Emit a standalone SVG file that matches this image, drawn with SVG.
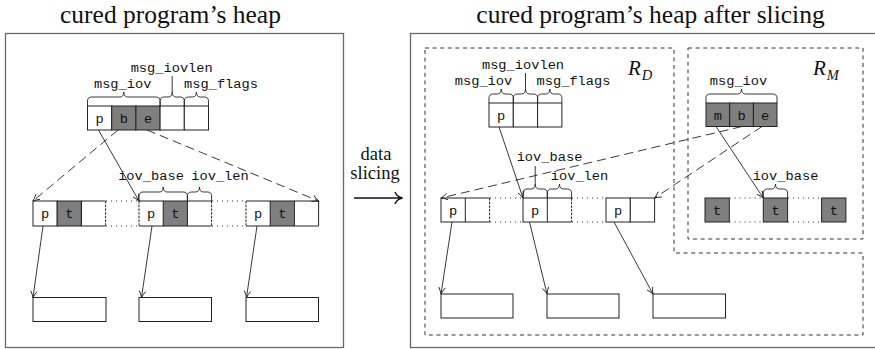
<svg xmlns="http://www.w3.org/2000/svg" width="875" height="349" viewBox="0 0 875 349">
<defs>
<marker id="ah" markerUnits="userSpaceOnUse" markerWidth="12" markerHeight="12" viewBox="-7 -6 8 12" refX="0" refY="0" orient="auto">
<path d="M-6.5,-3.2 Q-2.8,-0.9 0,0 Q-2.8,0.9 -6.5,3.2" fill="none" stroke="#222" stroke-width="0.9"/>
</marker>
<style>
.panel{fill:none;stroke:#6a6a6a;stroke-width:1.3}
.region{fill:none;stroke:#333;stroke-width:1;stroke-dasharray:4 3.6}
.cell{fill:#fff;stroke:#222;stroke-width:1}
.gr{fill:#7f7f7f}
.edge{stroke:#222;stroke-width:1;stroke-dasharray:2.5 1.2}
.dot{stroke:#333;stroke-width:1.1;stroke-dasharray:1.1 3.9;fill:none}
.brace{fill:none;stroke:#222;stroke-width:0.9}
.box{fill:#fff;stroke:#222;stroke-width:1}
.mono{font-family:"Liberation Mono","DejaVu Sans Mono",monospace;font-size:13.7px;fill:#111;text-anchor:middle}
.title{font-family:"Liberation Serif","DejaVu Serif",serif;font-size:25.5px;fill:#111;text-anchor:middle}
.lbl{font-family:"Liberation Serif","DejaVu Serif",serif;font-size:18.5px;fill:#111;text-anchor:middle}
.math{font-family:"Liberation Serif","DejaVu Serif",serif;font-style:italic;fill:#111}
.ptr{fill:none;stroke:#222;stroke-width:0.9;marker-end:url(#ah)}
.dptr{fill:none;stroke:#222;stroke-width:0.9;stroke-dasharray:9 5;marker-end:url(#ah)}
</style>
</defs>

<g id="titles">
<text class="title" x="170.5" y="23">cured program’s heap</text>
<text class="title" x="650.5" y="23">cured program’s heap after slicing</text>
</g>

<g id="left-panel">
<rect class="panel" x="5.5" y="33.5" width="338" height="314"/>
</g>

<g id="right-panel">
<rect class="panel" x="410.5" y="33.5" width="466" height="314"/>
<path id="region-RD" class="region" d="M425,48 H674 V253 H863 V335 H425 Z"/>
<rect id="region-RM" class="region" x="688" y="48" width="175" height="191"/>
<text class="math" x="628" y="75" font-size="21">R<tspan font-size="14.5" dx="1" dy="5">D</tspan></text>
<text class="math" x="813" y="75" font-size="21">R<tspan font-size="14.5" dx="1" dy="5">M</tspan></text>
</g>

<g id="slicing-arrow">
<text class="lbl" x="376" y="160">data</text>
<text class="lbl" x="375" y="179">slicing</text>
<path d="M354,198 H401 M395,192 Q397,197 402.5,198 Q397,199 395,204" fill="none" stroke="#111" stroke-width="1.4"/>
</g>

<!-- Left: msghdr struct -->
<g id="L-msghdr">
<rect class="cell" x="87.5" y="106" width="24.2" height="24"/>
<rect class="cell gr" x="111.7" y="106" width="24.2" height="24"/>
<rect class="cell gr" x="135.9" y="106" width="24.2" height="24"/>
<rect class="cell" x="160.1" y="106" width="24.2" height="24"/>
<rect class="cell" x="184.3" y="106" width="24.2" height="24"/>
<text class="mono" x="99.6" y="123">p</text>
<text class="mono" x="123.8" y="123">b</text>
<text class="mono" x="148" y="123">e</text>
<path class="brace" d="M87.5,106 L87.5,101 C87.5,98.5 89,97 91.5,97 L119.8,97 C122.3,97 123.8,95.5 123.8,92 C123.8,95.5 125.3,97 127.8,97 L156.1,97 C158.6,97 160.1,98.5 160.1,101 L160.1,106"/>
<path class="brace" d="M160.1,106 L160.1,101 C160.1,98.5 161.6,97 164.1,97 L168.2,97 C170.7,97 172.2,95.5 172.2,92 C172.2,95.5 173.7,97 176.2,97 L180.3,97 C182.8,97 184.3,98.5 184.3,101 L184.3,106 M172.2,92 V76"/>
<path class="brace" d="M184.3,106 L184.3,101 C184.3,98.5 185.8,97 188.3,97 L192.4,97 C194.9,97 196.4,95.5 196.4,92 C196.4,95.5 197.9,97 200.4,97 L204.5,97 C207,97 208.5,98.5 208.5,101 L208.5,106"/>
<text class="mono" x="171.7" y="72">msg_iovlen</text>
<text class="mono" x="122.7" y="87.5">msg_iov</text>
<text class="mono" x="221" y="87.5">msg_flags</text>
</g>

<!-- Left: iovec array -->
<g id="L-iov0">
<rect class="cell" x="33" y="201" width="24.2" height="25"/>
<rect class="cell gr" x="57.2" y="201" width="24.2" height="25"/>
<path d="M81.4,201 H105.6 M81.4,226 H105.6 M81.4,201 V226" stroke="#222" fill="none"/>
<line class="edge" x1="105.6" y1="201" x2="105.6" y2="226"/>
<text class="mono" x="45.1" y="218.3">p</text>
<text class="mono" x="69.3" y="218.3">t</text>
</g>
<g id="L-iov1">
<rect class="cell gr" x="163.2" y="201" width="24.2" height="25"/>
<path d="M139,201 H163.2 M139,226 H163.2 M187.4,201 H211.6 M187.4,226 H211.6" stroke="#222" fill="none"/>
<line class="edge" x1="139" y1="201" x2="139" y2="226"/>
<line class="edge" x1="211.6" y1="201" x2="211.6" y2="226"/>
<text class="mono" x="151.1" y="218.3">p</text>
<text class="mono" x="175.3" y="218.3">t</text>
<path class="brace" d="M139,201 L139,196 C139,193.5 140.5,192 143,192 L159.2,192 C161.7,192 163.2,190.5 163.2,187 C163.2,190.5 164.7,192 167.2,192 L183.4,192 C185.9,192 187.4,193.5 187.4,196 L187.4,201"/>
<path class="brace" d="M187.4,201 L187.4,196 C187.4,193.5 188.9,192 191.4,192 L195.5,192 C198,192 199.5,190.5 199.5,187 C199.5,190.5 201,192 203.5,192 L207.6,192 C210.1,192 211.6,193.5 211.6,196 L211.6,201"/>
<text class="mono" x="151" y="180">iov_base</text>
<text class="mono" x="220" y="180">iov_len</text>
</g>
<g id="L-iov2">
<rect class="cell gr" x="270.2" y="201" width="24.2" height="25"/>
<path d="M246,201 H270.2 M246,226 H270.2 M294.4,201 H318.6 V226 H294.4" stroke="#222" fill="none"/>
<line class="edge" x1="246" y1="201" x2="246" y2="226"/>
<text class="mono" x="258.1" y="218.3">p</text>
<text class="mono" x="282.3" y="218.3">t</text>
</g>
<g id="L-buffers">
<rect id="L-buf0" class="box" x="33" y="297.5" width="73" height="24"/>
<rect id="L-buf1" class="box" x="139" y="297.5" width="72.5" height="24"/>
<rect id="L-buf2" class="box" x="246" y="297.5" width="72.5" height="24"/>
</g>

<!-- Right: R_D msghdr -->
<g id="R-msghdr">
<rect class="cell" x="489" y="103" width="24.3" height="24"/>
<rect class="cell" x="513.3" y="103" width="24.3" height="24"/>
<rect class="cell" x="537.6" y="103" width="24.3" height="24"/>
<text class="mono" x="501.2" y="120">p</text>
<path class="brace" d="M489,103 L489,98 C489,95.5 490.5,94 493,94 L497.2,94 C499.7,94 501.2,92.5 501.2,89 C501.2,92.5 502.7,94 505.2,94 L509.3,94 C511.8,94 513.3,95.5 513.3,98 L513.3,103"/>
<path class="brace" d="M513.3,103 L513.3,98 C513.3,95.5 514.8,94 517.3,94 L521.5,94 C524,94 525.5,92.5 525.5,89 C525.5,92.5 527,94 529.5,94 L533.6,94 C536.1,94 537.6,95.5 537.6,98 L537.6,103 M525.5,89 V73"/>
<path class="brace" d="M537.6,103 L537.6,98 C537.6,95.5 539.1,94 541.6,94 L545.8,94 C548.3,94 549.8,92.5 549.8,89 C549.8,92.5 551.3,94 553.8,94 L557.9,94 C560.4,94 561.9,95.5 561.9,98 L561.9,103"/>
<text class="mono" x="523" y="69">msg_iovlen</text>
<text class="mono" x="483.5" y="85">msg_iov</text>
<text class="mono" x="573.5" y="85">msg_flags</text>
</g>

<!-- Right: R_M msg_iov -->
<g id="RM-msgiov">
<rect class="cell gr" x="706" y="103" width="23.7" height="23.5"/>
<rect class="cell gr" x="729.7" y="103" width="23.7" height="23.5"/>
<rect class="cell gr" x="753.4" y="103" width="23.6" height="23.5"/>
<text class="mono" x="717.8" y="120">m</text>
<text class="mono" x="741.5" y="120">b</text>
<text class="mono" x="765.2" y="120">e</text>
<path class="brace" d="M706,103 L706,98 C706,95.5 707.5,94 710,94 L737.5,94 C740,94 741.5,92.5 741.5,89 C741.5,92.5 743,94 745.5,94 L773,94 C775.5,94 777,95.5 777,98 L777,103"/>
<text class="mono" x="738.5" y="85">msg_iov</text>
</g>

<!-- Right: R_D iovec array -->
<g id="R-iov0">
<rect class="cell" x="441" y="198" width="24.3" height="24"/>
<path d="M465.3,198 H489.6 M465.3,222 H489.6" stroke="#222" fill="none"/>
<line class="edge" x1="489.6" y1="198" x2="489.6" y2="222"/>
<text class="mono" x="453.2" y="215">p</text>
</g>
<g id="R-iov1">
<rect class="cell" x="523" y="198" width="24.3" height="24"/>
<path d="M547.3,198 H571.6 M547.3,222 H571.6" stroke="#222" fill="none"/>
<line class="edge" x1="571.6" y1="198" x2="571.6" y2="222"/>
<text class="mono" x="535.2" y="215">p</text>
<path class="brace" d="M523,198 L523,193 C523,190.5 524.5,189 527,189 L531.2,189 C533.7,189 535.2,187.5 535.2,184 C535.2,187.5 536.7,189 539.2,189 L543.3,189 C545.8,189 547.3,190.5 547.3,193 L547.3,198 M535.2,184 V166"/>
<path class="brace" d="M547.3,198 L547.3,193 C547.3,190.5 548.8,189 551.3,189 L555.5,189 C558,189 559.5,187.5 559.5,184 C559.5,187.5 561,189 563.5,189 L567.6,189 C570.1,189 571.6,190.5 571.6,193 L571.6,198"/>
<text class="mono" x="549.5" y="160.5">iov_base</text>
<text class="mono" x="579.5" y="180">iov_len</text>
</g>
<g id="R-iov2">
<rect class="cell" x="606" y="198" width="24.3" height="24"/>
<rect class="cell" x="630.3" y="198" width="24.3" height="24"/>
<text class="mono" x="618.2" y="215">p</text>
</g>
<g id="R-buffers">
<rect id="R-buf0" class="box" x="441" y="294" width="72" height="24"/>
<rect id="R-buf1" class="box" x="547" y="294" width="72" height="24"/>
<rect id="R-buf2" class="box" x="653" y="294" width="72.5" height="24"/>
</g>

<!-- Right: R_M t cells -->
<g id="RM-t0">
<rect class="cell gr" x="705" y="198" width="24.3" height="24"/>
<text class="mono" x="717.2" y="215">t</text>
</g>
<g id="RM-t1">
<rect class="cell gr" x="763.3" y="198" width="24.3" height="24"/>
<text class="mono" x="775.5" y="215">t</text>
<path class="brace" d="M763.3,198 L763.3,193 C763.3,190.5 764.8,189 767.3,189 L771.5,189 C774,189 775.5,187.5 775.5,184 C775.5,187.5 777,189 779.5,189 L783.6,189 C786.1,189 787.6,190.5 787.6,193 L787.6,198"/>
<text class="mono" x="785.5" y="180">iov_base</text>
</g>
<g id="RM-t2">
<rect class="cell gr" x="821.6" y="198" width="24.3" height="24"/>
<text class="mono" x="833.8" y="215">t</text>
</g>

<g id="connectors">
<path class="dot" d="M106,201 H139 M106,226 H139 M212,201 H246 M212,226 H246"/>
<path class="dot" d="M490,198 H523 M490,222 H523 M572,198 H606 M572,222 H606"/>
<path class="dot" d="M729.5,198 H763 M729.5,222 H763 M788,198 H821.5 M788,222 H821.5"/>
<path class="ptr" d="M98.5,130 L139,201"/>
<path class="dptr" d="M118,130 L33,201"/>
<path class="dptr" d="M147,130 L318.6,201"/>
<path class="ptr" d="M43,226 L33,297.5"/>
<path class="ptr" d="M152,226 L141.5,297.5"/>
<path class="ptr" d="M257,226 L246.5,297.5"/>
<path class="ptr" d="M499,127 L523,198"/>
<path class="ptr" d="M452,222 L441,294"/>
<path class="ptr" d="M529.5,222 L547,294"/>
<path class="ptr" d="M614,222 L653,294"/>
<path class="dptr" d="M742,126.5 L441,198"/>
<path class="dptr" d="M762,126.5 L654.6,198"/>
<path class="ptr" d="M716,126.5 L763.3,198"/>
</g>
</svg>
